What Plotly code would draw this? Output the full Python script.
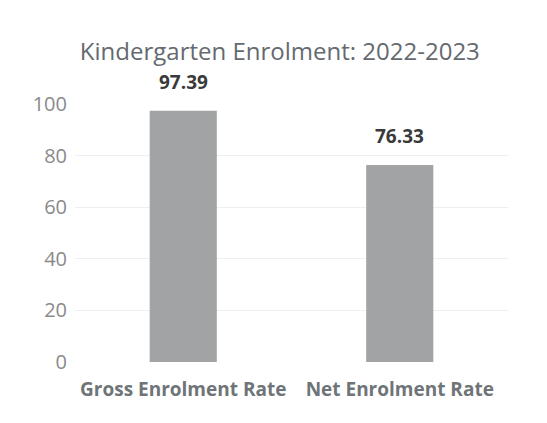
import plotly.graph_objects as go

categories = ["Gross Enrolment Rate", "Net Enrolment Rate"]
values = [97.39, 76.33]
value_labels = ["97.39", "76.33"]
y_ticks = [0, 20, 40, 60, 80, 100]

fig = go.Figure(go.Bar(
    x=categories, y=values,
    marker=dict(color="#a2a3a5", line=dict(width=0)),
    cliponaxis=False,
))

for c, v, t in zip(categories, values, value_labels):
    fig.add_annotation(x=c, y=v, text=t, showarrow=False, yanchor="bottom", yshift=14,
                       font=dict(family="Open Sans", size=19, color="#3a3a3a", weight="bold"))

fig.update_layout(
    width=547, height=423,
    margin=dict(l=67, r=47, t=96, b=69),
    paper_bgcolor="white", plot_bgcolor="white",
    bargap=0.69,
    showlegend=False,
    title=dict(text="Kindergarten Enrolment: 2022-2023", x=0.497, xanchor="center",
               y=1 - 44/423, yanchor="middle",
               font=dict(family="Open Sans", size=24, color="#656a6f")),
    font=dict(family="Open Sans"),
)
fig.update_yaxes(range=[0, 100], tickvals=y_ticks, showgrid=True, gridcolor="#efefef",
                 zeroline=False, showline=False,
                 tickfont=dict(size=20, color="#8a8a8a"), ticklabelstandoff=7)
fig.update_xaxes(showline=False, showgrid=False,
                 tickfont=dict(size=19, color="#6e7478", weight="bold"), ticklabelstandoff=14)

fig.write_html("out.html")
